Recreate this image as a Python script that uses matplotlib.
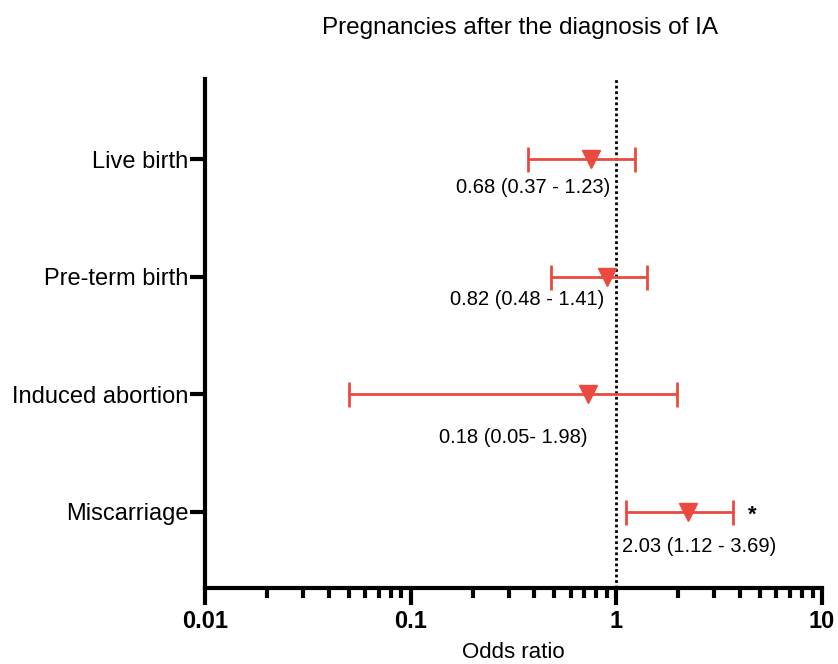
import matplotlib
matplotlib.use("Agg")
import matplotlib.pyplot as plt
from matplotlib.ticker import LogLocator, NullFormatter, FixedLocator, FixedFormatter

plt.rcParams['font.family'] = ['Liberation Sans', 'DejaVu Sans']

# Data
outcomes = ["Live birth", "Pre-term birth", "Induced abortion", "Miscarriage"]
point_plotted = [0.75, 0.90, 0.73, 2.22]   # marker positions as drawn
ci_low = [0.37, 0.48, 0.05, 1.12]
ci_high = [1.23, 1.41, 1.98, 3.69]
labels = ["0.68 (0.37 - 1.23)", "0.82 (0.48 - 1.41)", "0.18 (0.05- 1.98)", "2.03 (1.12 - 3.69)"]
label_x = [0.395, 0.369, 0.316, 2.54]
label_dy = [0.246, 0.195, 0.365, 0.29]
significant = [False, False, False, True]
xticks = [0.01, 0.1, 1, 10]
xtick_labels = ["0.01", "0.1", "1", "10"]

red = '#EC4A40'

fig = plt.figure(figsize=(8.38, 6.64), dpi=100)
ax = fig.add_axes([205 / 838, 76 / 664, 617 / 838, 509 / 664])

ys = [4, 3, 2, 1]
for i, y in enumerate(ys):
    p = point_plotted[i]
    ax.errorbar([p], [y], xerr=[[p - ci_low[i]], [ci_high[i] - p]], fmt='none',
                ecolor=red, elinewidth=2.0, capsize=9, capthick=2.0, zorder=3)
    ax.plot([p], [y], marker='v', color=red, markersize=13.5, linestyle='none', zorder=4)
    ax.text(label_x[i], y - label_dy[i], labels[i], ha='center', va='center', fontsize=14.5, color='black')
    if significant[i]:
        ax.text(4.6, y - 0.03, "*", ha='center', va='center', fontsize=16, fontweight='bold')

ax.axvline(1, color='black', linestyle=(0, (1, 1.0)), linewidth=2.0, zorder=2)

ax.set_xscale('log')
ax.set_xlim(0.01, 10)
ax.set_ylim(0.354, 4.68)

ax.xaxis.set_major_locator(FixedLocator(xticks))
ax.xaxis.set_major_formatter(FixedFormatter(xtick_labels))
ax.xaxis.set_minor_locator(LogLocator(base=10, subs=range(2, 10)))
ax.xaxis.set_minor_formatter(NullFormatter())

ax.set_yticks(ys)
ax.set_yticklabels(outcomes, fontsize=17)

for lbl in ax.get_xticklabels():
    lbl.set_fontweight('bold')
    lbl.set_fontsize(17)

ax.tick_params(axis='x', which='major', length=12, width=3, direction='out', pad=4)
ax.tick_params(axis='x', which='minor', length=7, width=3, direction='out')
ax.tick_params(axis='y', which='major', length=11, width=3, direction='out', pad=1)

for s in ['top', 'right']:
    ax.spines[s].set_visible(False)
for s in ['left', 'bottom']:
    ax.spines[s].set_linewidth(3)

ax.set_xlabel("Odds ratio", fontsize=16, labelpad=6)
fig.text(0.62, 0.958, "Pregnancies after the diagnosis of IA", ha='center', va='center', fontsize=17.5)

fig.savefig("out.png", dpi=100)
